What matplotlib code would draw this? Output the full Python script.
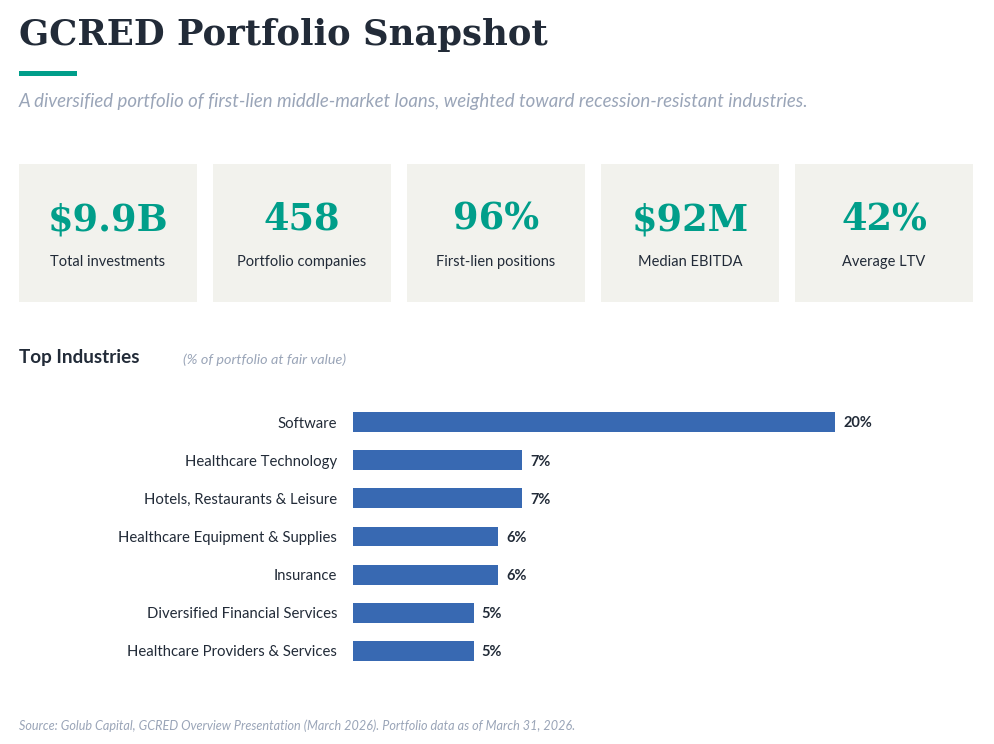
import matplotlib.pyplot as plt
from matplotlib.patches import Rectangle

W, H = 994, 744

# data
kpi_values = ['$9.9B', '458', '96%', '$92M', '42%']
kpi_labels = ['Total investments', 'Portfolio companies', 'First-lien positions',
              'Median EBITDA', 'Average LTV']
industries = ['Software', 'Healthcare Technology', 'Hotels, Restaurants & Leisure',
              'Healthcare Equipment & Supplies', 'Insurance',
              'Diversified Financial Services', 'Healthcare Providers & Services']
shares = [20, 7, 7, 6, 6, 5, 5]

TEAL = '#009e8a'
NAVY = '#222b38'
GREY = '#9aa5b8'
CARD = '#f2f2ed'
BLUE = '#3869b2'
SERIF = ['DejaVu Serif']
SANS = ['Lato', 'DejaVu Sans']

fig = plt.figure(figsize=(W / 100, H / 100), dpi=100)
fig.patch.set_facecolor('white')

# overlay axes in pixel coords (y down)
bg = fig.add_axes([0, 0, 1, 1])
bg.set_xlim(0, W)
bg.set_ylim(H, 0)
bg.axis('off')

bg.text(19, 45, 'GCRED Portfolio Snapshot', fontsize=25.5, fontweight='bold',
        family=SERIF, color=NAVY, va='baseline', ha='left')
bg.add_patch(Rectangle((19, 71), 58, 5, color=TEAL, lw=0))
bg.text(19, 107, 'A diversified portfolio of first-lien middle-market loans, '
        'weighted toward recession-resistant industries.',
        fontsize=13.4, style='italic', family=SANS, color=GREY, va='baseline')

# KPI cards
for i, (v, lab) in enumerate(zip(kpi_values, kpi_labels)):
    x0 = 19 + i * 194
    bg.add_patch(Rectangle((x0, 164), 178, 138, color=CARD, lw=0))
    bg.text(x0 + 89, 230, v, fontsize=26.5, fontweight='bold', family=SERIF,
            color=TEAL, ha='center', va='baseline')
    bg.text(x0 + 89, 266, lab, fontsize=10.5, family=SANS, color=NAVY,
            ha='center', va='baseline')

bg.text(19, 363, 'Top Industries', fontsize=13.6, fontweight='bold', family=SANS,
        color=NAVY, va='baseline')
bg.text(183, 364, '(% of portfolio at fair value)', fontsize=10.4, style='italic',
        family=SANS, color=GREY, va='baseline')

bg.text(19, 730, 'Source: Golub Capital, GCRED Overview Presentation (March 2026). '
        'Portfolio data as of March 31, 2026.', fontsize=9.1, style='italic',
        family=SANS, color=GREY, va='baseline')

# bar chart
ax = fig.add_axes([353 / W, 1 - 670 / H, 482 / W, 267 / H])
ypos = list(range(len(industries)))
ax.barh(ypos, shares, height=0.52, color=BLUE)
ax.set_xlim(0, 20)
ax.set_ylim(len(industries) - 0.5, -0.5)
ax.set_yticks(ypos)
ax.set_yticklabels(industries, fontsize=10.7, family=SANS, color=NAVY)
ax.tick_params(axis='y', length=0, pad=11.5)
ax.set_xticks([])
for s in ax.spines.values():
    s.set_visible(False)
ax.patch.set_alpha(0)
for y, v in zip(ypos, shares):
    ax.annotate(f'{v}%', (v, y), xytext=(6, -1), textcoords='offset points',
                va='center', ha='left', fontsize=10.5, fontweight='bold',
                family=SANS, color=NAVY)

fig.savefig('out.png', dpi=100)
